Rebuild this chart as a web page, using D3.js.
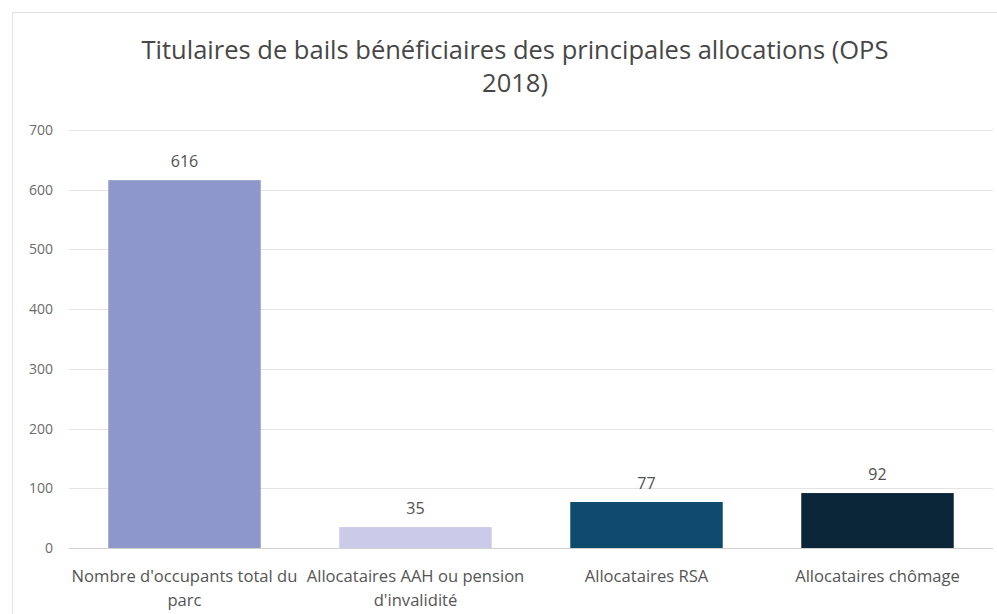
<!DOCTYPE html>
<html>
<head>
<meta charset="utf-8">
<script src="https://d3js.org/d3.v7.min.js"></script>
<style>
  body { margin: 0; background: #fff; }
  text { font-family: "Open Sans", sans-serif; }
</style>
</head>
<body>
<svg width="997" height="614"></svg>
<script>
var categories = [
  ["Nombre d'occupants total du", "parc"],
  ["Allocataires AAH ou pension", "d'invalidité"],
  ["Allocataires RSA"],
  ["Allocataires chômage"]
];
var values = [616, 35, 77, 92];
var colors = ["#8d97c9", "#cbcae9", "#0e4a6c", "#0b2638"];
var yTicks = [0, 100, 200, 300, 400, 500, 600, 700];
var titleLines = ["Titulaires de bails bénéficiaires des principales allocations (OPS", "2018)"];

var svg = d3.select("svg");

// frame
svg.append("rect")
  .attr("x", 12.5).attr("y", 12.5)
  .attr("width", 990).attr("height", 610)
  .attr("fill", "none")
  .attr("stroke", "#e2e2e2");

var x = d3.scaleBand()
  .domain(d3.range(values.length))
  .range([69, 993])
  .paddingInner(0.34)
  .paddingOuter(0.17);

var y = d3.scaleLinear().domain([0, 700]).range([548, 130]);

// gridlines
svg.append("g")
  .selectAll("line")
  .data(yTicks)
  .enter()
  .append("line")
  .attr("x1", 69).attr("x2", 993)
  .attr("y1", function(d) { return Math.round(y(d)) + 0.5; })
  .attr("y2", function(d) { return Math.round(y(d)) + 0.5; })
  .attr("stroke", function(d) { return d === 0 ? "#d0d0d0" : "#e4e4e4"; })
  .attr("stroke-width", 1.2);

// y axis labels
var yAxis = d3.axisLeft(y).tickValues(yTicks).tickSize(0).tickPadding(0);
var gy = svg.append("g").attr("transform", "translate(53,0)").call(yAxis);
gy.select(".domain").remove();
gy.selectAll("text")
  .attr("fill", "#6b6b6b")
  .style("font-family", "\"Open Sans\", sans-serif")
  .style("font-size", "14px");

// bars
svg.append("g")
  .selectAll("rect")
  .data(values)
  .enter()
  .append("rect")
  .attr("x", function(d, i) { return x(i); })
  .attr("width", x.bandwidth())
  .attr("y", function(d) { return y(d); })
  .attr("height", function(d) { return y(0) - y(d); })
  .attr("fill", function(d, i) { return colors[i]; });

// value labels
svg.append("g")
  .selectAll("text")
  .data(values)
  .enter()
  .append("text")
  .attr("x", function(d, i) { return x(i) + x.bandwidth() / 2; })
  .attr("y", function(d) { return y(d) - 13; })
  .attr("text-anchor", "middle")
  .attr("fill", "#505050")
  .style("font-size", "16px")
  .text(function(d) { return d; });

// category labels
var cat = svg.append("g")
  .selectAll("text")
  .data(categories)
  .enter()
  .append("text")
  .attr("text-anchor", "middle")
  .attr("fill", "#555")
  .style("font-size", "16.6px")
  .attr("transform", function(d, i) {
    return "translate(" + (x(i) + x.bandwidth() / 2) + ",582)";
  });
cat.selectAll("tspan")
  .data(function(d) { return d; })
  .enter()
  .append("tspan")
  .attr("x", 0)
  .attr("dy", function(d, i) { return i === 0 ? 0 : 24; })
  .text(function(d) { return d; });

// title
svg.append("text")
  .attr("text-anchor", "middle")
  .attr("fill", "#474747")
  .style("font-size", "25.5px")
  .selectAll("tspan")
  .data(titleLines)
  .enter()
  .append("tspan")
  .attr("x", 515)
  .attr("y", function(d, i) { return 59 + i * 33; })
  .text(function(d) { return d; });
</script>
</body>
</html>
